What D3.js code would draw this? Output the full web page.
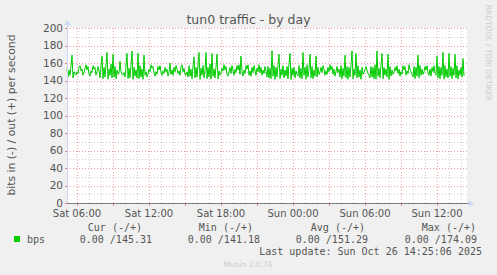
<!DOCTYPE html>
<html><head><meta charset="utf-8">
<script src="https://cdn.jsdelivr.net/npm/d3@7"></script>
<style>
html,body{margin:0;padding:0;background:#F0F0F0;}
svg{display:block;}
</style></head>
<body>
<script>
// ---- data ----
const title = "tun0 traffic - by day";
const yLabel = "bits in (-) / out (+) per second";
const startTime = "2025-10-25T05:10:00Z";
const endTime = "2025-10-26T14:30:00Z";
const stepMinutes = 5;
const yTicks = [0,20,40,60,80,100,120,140,160,180,200];
const xLabelTicks = ["2025-10-25T06:00:00Z","2025-10-25T12:00:00Z","2025-10-25T18:00:00Z","2025-10-26T00:00:00Z","2025-10-26T06:00:00Z","2025-10-26T12:00:00Z"];
const legendHeaders = ["Cur (-/+)","Min (-/+)","Avg (-/+)","Max (-/+)"];
const legendValues = ["0.00 /145.31","0.00 /141.18","0.00 /151.29","0.00 /174.09"];
const seriesName = "bps";
const lastUpdate = "Last update: Sun Oct 26 14:25:06 2025";
const footer = "Munin 2.0.76";
const sideText = "RRDTOOL / TOBI OETIKER";
const bpsOut = [
154,144,152,146,157,169,143,150,147,
146,150,148,155,157,151,153,146,149,154,158,152,156,147,145,151,149,157,153,155,146,150,156,151,
143,157,168,142,155,144,158,172,141.6,153,146,159,143,170,144,156,142,152,147,
148,162,150,147,146,149,
144,156,171,142,154,143,158,173.6,141.4,155,145,152,143,171,142,157,144,153,141.5,169,146,150,144,
147,153,150,158,154,156,148,145,150,147,156,152,157,149,146,151,148,155,150,153,145,149,160,147,152,146,155,150,157,153,148,151,146,156,158,150,154,147,146,
150,144,157,145,153,142,156,167,143,155,144,158,172,141.3,154,146,157,143,152,172,142,155,144,159,141.7,171,145,153,143,156,170,142,151,146,
148,154,151,158,152,156,147,145,150,155,148,157,151,146,153,149,157,152,158,147,168,150,145,152,148,157,153,158,146,151,145,155,149,157,152,146,154,150,158,149,155,146,152,148,156,151,
144,156,143,154,142,174.09,145,157,141.5,155,144,158,170,142,153,146,157,143,152,145,156,142,159,171,141.18,154,146,155,143,151,147,
145,157,143,154,142,172,146,155,141.6,158,144,153,170,143,156,142,152,145,168,144,155,147,
150,155,149,157,153,146,151,147,155,150,158,152,156,147,153,145,150,156,149,153,
144,157,142,154,145,169,143,156,141.4,155,144,158,173.8,142,153,146,171,143,157,144,152,141.5,155,147,
149,153,156,152,148,146,
143,156,144,155,142,158,141.6,173.7,145,154,143,157,171,142,155,146,153,144,170,141.3,156,145,152,147,
149,155,151,157,148,153,145,150,147,157,152,156,146,151,148,158,153,150,147,
144,156,142,155,145,169,143,157,146,153,147,
150,156,152,157,149,146,153,145,155,150,157,148,146,
168,143,156,142,155,146,172,141.5,157,144,153,143,171,145,156,142,154,146,170,143,157,141.6,152,146,155,144,165,145.31
];

// ---- chart ----
const W = 497, H = 275;
const plot = {left:67, right:467, top:28, bottom:203};
const svg = d3.select("body").append("svg").attr("width",W).attr("height",H)
  .style("font-family","'DejaVu Sans', sans-serif");
svg.append("rect").attr("width",W).attr("height",H).attr("fill","#F0F0F0");

const t0 = new Date(startTime), t1 = new Date(endTime);
const x = d3.scaleUtc().domain([t0,t1]).range([plot.left, plot.right]);
const y = d3.scaleLinear().domain([0,200]).range([plot.bottom, plot.top]);

svg.append("rect").attr("x",plot.left).attr("y",plot.top)
  .attr("width",plot.right-plot.left).attr("height",plot.bottom-plot.top).attr("fill","#FFFFFF");

const g = svg.append("g");
// minor grid
const minorY = d3.range(0,201,10).filter(v=>v%20!==0);
g.selectAll(".ymin").data(minorY).enter().append("line")
  .attr("x1",plot.left).attr("x2",plot.right)
  .attr("y1",d=>Math.round(y(d))+0.5).attr("y2",d=>Math.round(y(d))+0.5)
  .attr("stroke","#CCCCCC").attr("stroke-dasharray","1,2");
const hourTicks = d3.utcHour.every(1).range(t0,t1);
const minorX = hourTicks.filter(d=>d.getUTCHours()%3!==0);
const majorX = hourTicks.filter(d=>d.getUTCHours()%3===0);
g.selectAll(".xmin").data(minorX).enter().append("line")
  .attr("x1",d=>Math.round(x(d))+0.5).attr("x2",d=>Math.round(x(d))+0.5)
  .attr("y1",plot.top).attr("y2",plot.bottom)
  .attr("stroke","#CCCCCC").attr("stroke-dasharray","1,2");
// major grid
g.selectAll(".ymaj").data(yTicks.filter(v=>v>0)).enter().append("line")
  .attr("x1",plot.left).attr("x2",plot.right)
  .attr("y1",d=>Math.round(y(d))+0.5).attr("y2",d=>Math.round(y(d))+0.5)
  .attr("stroke","#E8A0A0").attr("stroke-dasharray","1,2");
g.selectAll(".xmaj").data(majorX).enter().append("line")
  .attr("x1",d=>Math.round(x(d))+0.5).attr("x2",d=>Math.round(x(d))+0.5)
  .attr("y1",plot.top).attr("y2",plot.bottom)
  .attr("stroke","#E8A0A0").attr("stroke-dasharray","1,2");

// data line
const pts = bpsOut.map((v,i)=>({t:new Date(t0.getTime()+i*stepMinutes*60000), v}));
const line = d3.line().x(d=>x(d.t)).y(d=>y(d.v));
svg.append("path").datum(pts).attr("d",line)
  .attr("fill","none").attr("stroke","#00CC00").attr("stroke-width",1);

// axes lines
svg.append("line").attr("x1",plot.left+0.5).attr("x2",plot.left+0.5)
  .attr("y1",plot.top-4).attr("y2",plot.bottom).attr("stroke","#D0D4F0");
svg.append("line").attr("x1",plot.left).attr("x2",plot.right+2)
  .attr("y1",plot.bottom+0.5).attr("y2",plot.bottom+0.5).attr("stroke","#7A7A8A");
svg.append("path").attr("d",`M${plot.left-3},${plot.top-3} L${plot.left+0.5},${plot.top-8} L${plot.left+4},${plot.top-3} Z`).attr("fill","#D0D8F8");
svg.append("path").attr("d",`M${plot.right+2},${plot.bottom-3} L${plot.right+7},${plot.bottom+0.5} L${plot.right+2},${plot.bottom+4} Z`).attr("fill","#D0D8F8");

// tick marks
svg.selectAll(".xt").data(majorX).enter().append("line")
  .attr("x1",d=>Math.round(x(d))+0.5).attr("x2",d=>Math.round(x(d))+0.5)
  .attr("y1",plot.bottom+1).attr("y2",plot.bottom+3).attr("stroke","#E08080");
svg.selectAll(".yt").data(yTicks).enter().append("line")
  .attr("x1",plot.left-2).attr("x2",plot.left)
  .attr("y1",d=>Math.round(y(d))+0.5).attr("y2",d=>Math.round(y(d))+0.5).attr("stroke","#E08080");

// tick labels
const fmt = d3.utcFormat("%a %H:%M");
svg.selectAll(".xl").data(xLabelTicks).enter().append("text")
  .attr("x",d=>x(new Date(d))).attr("y",216.5).attr("text-anchor","middle")
  .attr("font-size","10px").attr("fill","#555").text(d=>fmt(new Date(d)));
svg.selectAll(".yl").data(yTicks).enter().append("text")
  .attr("x",63).attr("y",d=>y(d)+3.5).attr("text-anchor","end")
  .attr("font-size","10.5px").attr("fill","#555").text(d=>d);

// title and labels
svg.append("text").attr("x",248.5).attr("y",24).attr("text-anchor","middle")
  .attr("font-size","12.5px").attr("fill","#555").text(title);
svg.append("text").attr("transform","translate(15,115) rotate(-90)").attr("text-anchor","middle")
  .attr("font-size","10.8px").attr("fill","#555").text(yLabel);
svg.append("text").attr("transform","translate(486,53) rotate(90)").attr("text-anchor","middle")
  .attr("font-size","7.5px").attr("fill","#CCCCCC").text(sideText);

// legend
const mono = "'DejaVu Sans Mono', monospace";
const headerX = [142,253,365,476];
const valueX = [152,260,368,477];
svg.selectAll(".lh").data(legendHeaders).enter().append("text")
  .attr("x",(d,i)=>headerX[i]).attr("y",231).attr("text-anchor","end")
  .attr("font-family",mono).attr("font-size","10px").attr("fill","#555").text(d=>d);
svg.selectAll(".lv").data(legendValues).enter().append("text")
  .attr("x",(d,i)=>valueX[i]).attr("y",243).attr("text-anchor","end")
  .attr("font-family",mono).attr("font-size","10px").attr("fill","#555").text(d=>d);
svg.append("rect").attr("x",14).attr("y",236).attr("width",6).attr("height",6).attr("fill","#00CC00");
svg.append("text").attr("x",27).attr("y",243).attr("font-family",mono).attr("font-size","10px")
  .attr("fill","#555").text(seriesName);
svg.append("text").attr("x",482).attr("y",255).attr("text-anchor","end")
  .attr("font-family",mono).attr("font-size","10px").attr("fill","#555").text(lastUpdate);
svg.append("text").attr("x",248).attr("y",267).attr("text-anchor","middle")
  .attr("font-size","7.5px").attr("fill","#CCCCCC").text(footer);
</script>
</body></html>
